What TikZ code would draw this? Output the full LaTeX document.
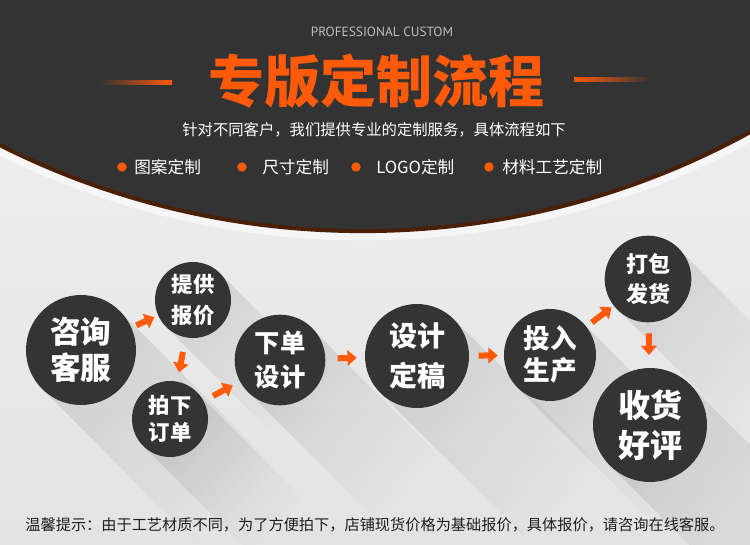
\documentclass[tikz,border=0pt]{standalone}
\usepackage{fontspec}
\usetikzlibrary{arrows.meta,fadings}
\newfontfamily\cjk{Noto Sans CJK SC}
\newfontfamily\latinsans{PT Sans}
\definecolor{darkbg}{HTML}{333333}
\definecolor{disc}{HTML}{343434}
\definecolor{org}{HTML}{FF5A0A}
\definecolor{brownedge}{HTML}{4A2008}
\definecolor{bglight}{HTML}{F1F1F1}
\definecolor{bggray}{HTML}{E3E3E3}
\definecolor{notecol}{HTML}{1E1E1E}
\definecolor{pccol}{HTML}{BDBDBD}
\tikzset{
  disc/.style={circle, fill=disc, text=white, inner sep=0pt, align=center},
  flowarrow/.style={draw=org, line width=4.5pt, -{Triangle[length=7pt,width=11.5pt]}},
  longshadow/.style={fill=black, fill opacity=0.10, path fading=south, fading angle=45},
  dot/.style={circle, fill=org, inner sep=0pt, minimum size=7pt},
  bullettext/.style={anchor=west, inner sep=0pt, text=white, font=\cjk\fontsize{12.5}{13}\selectfont},
}
\begin{document}
\begin{tikzpicture}[x=0.75pt,y=-0.75pt]
\useasboundingbox (0,0) rectangle (750,544);
\clip (0,0) rectangle (750,544);
% background
\shade[top color=bglight, bottom color=bggray] (0,0) rectangle (750,544);
% long shadows
\foreach \cx/\cy/\r in {81/350/55, 193/300/38, 170/419/38, 280/360/45, 417/356/52, 550/355/46, 648/279/43, 650/425/57}{
  \fill[longshadow] ({\cx+0.7071*\r},{\cy-0.7071*\r}) -- ++({2.83*\r},{2.83*\r}) -- ++({-1.4142*\r},{1.4142*\r}) -- ({\cx-0.7071*\r},{\cy+0.7071*\r}) -- cycle;
}
% dark top with arc
\draw[white, opacity=0.55, line width=7.5pt] (362.6,-575.6) circle[radius=811];
\fill[darkbg] (362.6,-575.6) circle[radius=806.7];
\draw[brownedge, line width=3pt] (362.6,-575.6) circle[radius=806.7];
% header texts
\node[font=\latinsans\fontsize{10}{10}\selectfont, text=pccol] (pc) at (382,32) {PROFESSIONAL CUSTOM};
\node[font=\cjk\bfseries\fontsize{42}{42}\selectfont, text=org] (title) at (376,81) {专版定制流程};
\shade[left color=darkbg, right color=org] (100,80.5) rectangle (172,84);
\shade[left color=org, right color=darkbg] (574,77.5) rectangle (651,81);
\node[font=\cjk\fontsize{11.5}{12}\selectfont, text=white] (sub) at (374,130) {针对不同客户，我们提供专业的定制服务，具体流程如下};
\node[dot] (d1) at (122,167) {};
\node[bullettext] (t1) at (134,167) {图案定制};
\node[dot] (d2) at (242,167) {};
\node[bullettext] (t2) at (262,167) {尺寸定制};
\node[dot] (d3) at (356,167) {};
\node[bullettext] (t3) at (376,167) {LOGO定制};
\node[dot] (d4) at (489,167) {};
\node[bullettext] (t4) at (502,167) {材料工艺定制};
% circles
\node[disc, minimum size=82.5pt, font=\cjk\bfseries\fontsize{23}{27}\selectfont] (n1) at (81,350) {咨询\\客服};
\node[disc, minimum size=57pt, font=\cjk\bfseries\fontsize{16}{23}\selectfont] (n2) at (193,300) {提供\\报价};
\node[disc, minimum size=57pt, font=\cjk\bfseries\fontsize{16}{20}\selectfont] (n3) at (170,419) {拍下\\订单};
\node[disc, minimum size=68pt, font=\cjk\bfseries\fontsize{19}{25}\selectfont] (n4) at (280,360) {下单\\设计};
\node[disc, minimum size=78pt, font=\cjk\bfseries\fontsize{21}{30}\selectfont] (n5) at (417,356) {设计\\定稿};
\node[disc, minimum size=69pt, font=\cjk\bfseries\fontsize{20}{24}\selectfont] (n6) at (550,355) {投入\\生产};
\node[disc, minimum size=65pt, font=\cjk\bfseries\fontsize{16.5}{23}\selectfont] (n7) at (648,279) {打包\\发货};
\node[disc, minimum size=85.5pt, font=\cjk\bfseries\fontsize{24}{30}\selectfont] (n8) at (650,425) {收货\\好评};
% arrows
\draw[flowarrow, shorten <=4pt, shorten >=3pt] (n1) -- (n2);
\draw[flowarrow, shorten <=11pt, shorten >=7pt] (n2) -- (n3);
\draw[flowarrow, shorten <=8pt, shorten >=6pt] (n3) -- (n4);
\draw[flowarrow, shorten <=9pt, shorten >=6pt] (n4) -- (n5);
\draw[flowarrow, shorten <=7pt, shorten >=4.5pt] (n5) -- (n6);
\draw[flowarrow, shorten <=5pt, shorten >=2pt] (n6) -- (n7);
\draw[flowarrow, shorten <=8pt, shorten >=9.5pt] (n7) -- (n8);
% bottom note
\node[font=\cjk\fontsize{11.4}{12}\selectfont, text=notecol] (tip) at (375,525) {温馨提示：由于工艺材质不同，为了方便拍下，店铺现货价格为基础报价，具体报价，请咨询在线客服。};
\end{tikzpicture}
\end{document}
